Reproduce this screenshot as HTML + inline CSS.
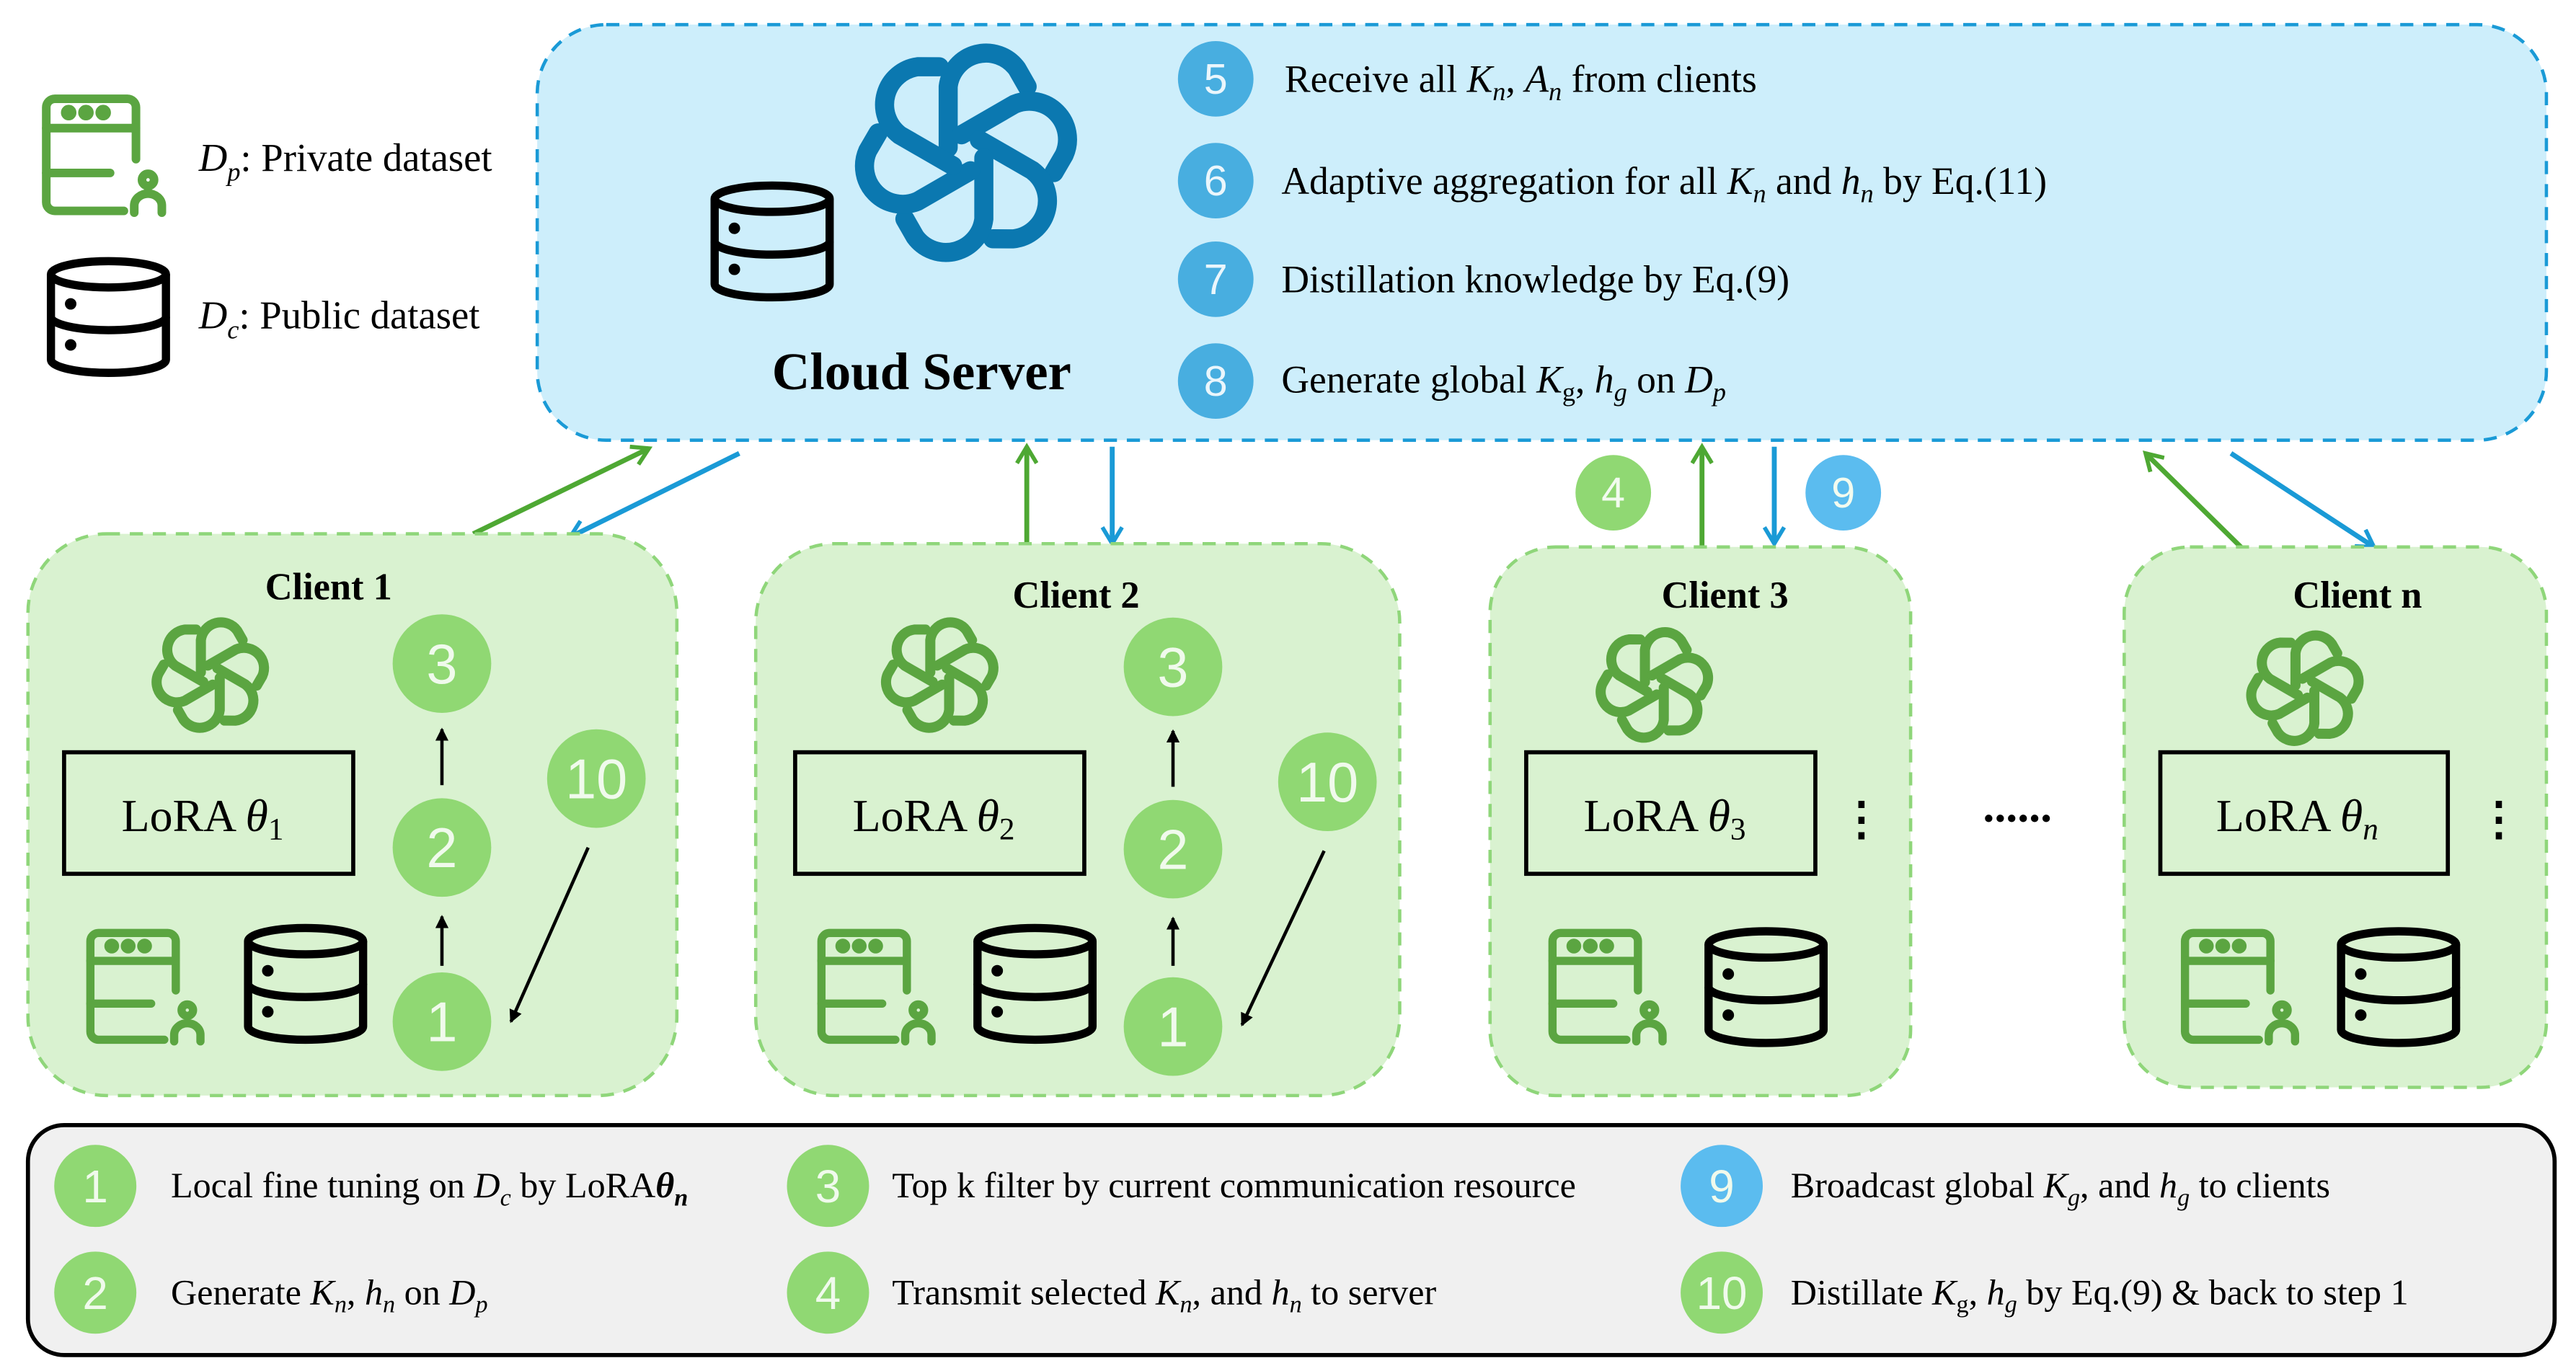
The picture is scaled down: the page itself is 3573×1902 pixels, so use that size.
<!DOCTYPE html>
<html><head><meta charset="utf-8"><style>html,body{margin:0;padding:0;background:#fff}svg{display:block}</style></head>
<body>
<svg width="3573" height="1902" viewBox="0 0 1568 834.7" xmlns="http://www.w3.org/2000/svg" font-family="'Liberation Serif', serif">
<defs>
<g id="logo" fill="none" stroke-linejoin="round" stroke-linecap="round">
  <g id="petal"><path d="M-7,-2 L-7,-26 A15,15 0 0 1 20,-33 L24,-26" stroke-width="7.5"/></g>
  <use href="#petal" transform="rotate(60)"/>
  <use href="#petal" transform="rotate(120)"/>
  <use href="#petal" transform="rotate(180)"/>
  <use href="#petal" transform="rotate(240)"/>
  <use href="#petal" transform="rotate(300)"/>
</g>
<g id="db" fill="none" stroke="#000" stroke-width="5">
  <ellipse cx="38" cy="10" rx="35" ry="8"/>
  <path d="M3,10 V62 A35,8 0 0 0 73,62 V10"/>
  <path d="M3,36 A35,8 0 0 0 73,36"/>
  <circle cx="15" cy="28" r="3.5" fill="#000" stroke="none"/>
  <circle cx="15" cy="53" r="3.5" fill="#000" stroke="none"/>
</g>
<g id="srv" fill="none" stroke="#5ba541" stroke-width="5" stroke-linecap="round">
  <path d="M48,68 H8 A5,5 0 0 1 3,63 V8 A5,5 0 0 1 8,3 H50 A5,5 0 0 1 55,8 V38"/>
  <path d="M3,20 H55 M3,46 H40"/>
  <circle cx="16" cy="11" r="2" fill="#5ba541"/><circle cx="26" cy="11" r="2" fill="#5ba541"/><circle cx="36" cy="11" r="2" fill="#5ba541"/>
  <circle cx="62" cy="50" r="3.5"/>
  <path d="M54,69 V65 A8,7 0 0 1 70,65 V69"/>
</g>
<marker id="ak" markerWidth="8" markerHeight="8" refX="7" refY="4" orient="auto" markerUnits="userSpaceOnUse"><path d="M0,0 L8,4 L0,8 z" fill="#000"/></marker>
<marker id="ag" markerWidth="14" markerHeight="14" refX="11" refY="7" orient="auto" markerUnits="userSpaceOnUse"><path d="M1,1 L11,7 L1,13" fill="none" stroke="#4ea833" stroke-width="2.5"/></marker>
<marker id="ab" markerWidth="14" markerHeight="14" refX="11" refY="7" orient="auto" markerUnits="userSpaceOnUse"><path d="M1,1 L11,7 L1,13" fill="none" stroke="#1a9ad6" stroke-width="2.5"/></marker>
</defs>

<!-- legend top-left -->
<use href="#srv" transform="translate(25,57) scale(1.05)"/>
<text x="121" y="104" font-size="24"><tspan font-style="italic">D</tspan><tspan font-style="italic" font-size="16" dy="6">p</tspan><tspan dy="-6">: Private dataset</tspan></text>
<use href="#db" transform="translate(28,157)"/>
<text x="121" y="200" font-size="24"><tspan font-style="italic">D</tspan><tspan font-style="italic" font-size="16" dy="6">c</tspan><tspan dy="-6">: Public  dataset</tspan></text>

<!-- cloud server -->
<rect x="327" y="15" width="1223" height="253" rx="42" fill="#cdeefb" stroke="#1a9ad6" stroke-width="2" stroke-dasharray="8,6"/>
<g fill="#cdeefb"><use href="#db" transform="translate(432,111)"/></g>
<g stroke="#0b78b0"><use href="#logo" transform="translate(588,93) scale(1.55)"/></g>
<text x="561" y="237" font-size="32" font-weight="bold" text-anchor="middle">Cloud Server</text>
<g font-family="'Liberation Sans', sans-serif" font-size="26" fill="#eaf6fc" text-anchor="middle">
<circle cx="740" cy="48" r="23" fill="#48aee0"/><text x="740" y="57">5</text>
<circle cx="740" cy="110" r="23" fill="#48aee0"/><text x="740" y="119">6</text>
<circle cx="740" cy="170" r="23" fill="#48aee0"/><text x="740" y="179">7</text>
<circle cx="740" cy="232" r="23" fill="#48aee0"/><text x="740" y="241">8</text>
</g>
<g font-size="23.5">
<text x="782" y="56">Receive all <tspan font-style="italic">K</tspan><tspan font-style="italic" font-size="16" dy="5">n</tspan><tspan dy="-5">, </tspan><tspan font-style="italic">A</tspan><tspan font-style="italic" font-size="16" dy="5">n</tspan><tspan dy="-5">  from clients</tspan></text>
<text x="780" y="118">Adaptive aggregation for all <tspan font-style="italic">K</tspan><tspan font-style="italic" font-size="16" dy="5">n</tspan><tspan dy="-5"> and </tspan><tspan font-style="italic">h</tspan><tspan font-style="italic" font-size="16" dy="5">n</tspan><tspan dy="-5">   by Eq.(11)</tspan></text>
<text x="780" y="178">Distillation knowledge by Eq.(9)</text>
<text x="780" y="239">Generate global <tspan font-style="italic">K</tspan><tspan font-size="16" dy="5">g</tspan><tspan dy="-5">, </tspan><tspan font-style="italic">h</tspan><tspan font-style="italic" font-size="16" dy="5">g</tspan><tspan dy="-5"> on </tspan><tspan font-style="italic">D</tspan><tspan font-style="italic" font-size="16" dy="5">p</tspan></text>
</g>

<!-- connectors -->
<g stroke-width="3" fill="none">
<line x1="288" y1="325" x2="395" y2="273" stroke="#4ea833" marker-end="url(#ag)"/>
<line x1="450" y1="276" x2="347" y2="327" stroke="#1a9ad6" marker-end="url(#ab)"/>
<line x1="625" y1="331" x2="625" y2="272" stroke="#4ea833" marker-end="url(#ag)"/>
<line x1="677" y1="272" x2="677" y2="331" stroke="#1a9ad6" marker-end="url(#ab)"/>
<line x1="1036" y1="334" x2="1036" y2="272" stroke="#4ea833" marker-end="url(#ag)"/>
<line x1="1080" y1="272" x2="1080" y2="331" stroke="#1a9ad6" marker-end="url(#ab)"/>
<line x1="1365" y1="334" x2="1306" y2="276" stroke="#4ea833" marker-end="url(#ag)"/>
<line x1="1358" y1="276" x2="1445" y2="333" stroke="#1a9ad6" marker-end="url(#ab)"/>
</g>
<g font-family="'Liberation Sans', sans-serif" font-size="26" fill="#f2fbef" text-anchor="middle">
<circle cx="982" cy="300" r="23" fill="#90d873"/><text x="982" y="309">4</text>
<circle cx="1122" cy="300" r="23" fill="#5bbcef"/><text x="1122" y="309">9</text>
</g>

<!-- clients -->
<g fill="#d9f2d0" stroke="#8fd67a" stroke-width="2" stroke-dasharray="8,6">
<rect x="17" y="325" width="395" height="342" rx="48"/>
<rect x="460" y="331" width="392" height="336" rx="48"/>
<rect x="907" y="333" width="256" height="334" rx="40"/>
<rect x="1293" y="333" width="257" height="329" rx="40"/>
</g>
<g font-size="23" font-weight="bold" text-anchor="middle">
<text x="200" y="365">Client 1</text>
<text x="655" y="370">Client 2</text>
<text x="1050" y="370">Client 3</text>
<text x="1435" y="370">Client n</text>
</g>
<g stroke="#5ba541">
<use href="#logo" transform="translate(128,411) scale(0.82)"/>
<use href="#logo" transform="translate(572,411) scale(0.82)"/>
<use href="#logo" transform="translate(1007,417) scale(0.82)"/>
<use href="#logo" transform="translate(1403,419) scale(0.82)"/>
</g>
<g fill="none" stroke="#000" stroke-width="2.5">
<rect x="39" y="458" width="176" height="74"/>
<rect x="484" y="458" width="176" height="74"/>
<rect x="929" y="458" width="176" height="74"/>
<rect x="1315" y="458" width="175" height="74"/>
</g>
<g font-size="28">
<text x="74" y="506">LoRA <tspan font-style="italic">θ</tspan><tspan font-size="19" dy="5">1</tspan></text>
<text x="519" y="506">LoRA <tspan font-style="italic">θ</tspan><tspan font-size="19" dy="5">2</tspan></text>
<text x="964" y="506">LoRA <tspan font-style="italic">θ</tspan><tspan font-size="19" dy="5">3</tspan></text>
<text x="1349" y="506">LoRA <tspan font-style="italic">θ</tspan><tspan font-style="italic" font-size="19" dy="5">n</tspan></text>
</g>
<g font-size="28" font-weight="bold" text-anchor="middle">
<text x="1133" y="508">⋮</text><text x="1521" y="508">⋮</text>
<text x="1228" y="500">......</text>
</g>
<use href="#srv" transform="translate(52,565)"/><use href="#db" transform="translate(148,563)"/>
<use href="#srv" transform="translate(497,565)"/><use href="#db" transform="translate(592,563)"/>
<use href="#srv" transform="translate(942,565)"/><use href="#db" transform="translate(1037,565)"/>
<use href="#srv" transform="translate(1327,565)"/><use href="#db" transform="translate(1422,565)"/>

<g stroke="#000" stroke-width="2" marker-end="url(#ak)">
<line x1="269" y1="588" x2="269" y2="558"/><line x1="269" y1="478" x2="269" y2="444"/>
<line x1="358" y1="516" x2="311" y2="622"/>
<line x1="714" y1="588" x2="714" y2="559"/><line x1="714" y1="479" x2="714" y2="445"/>
<line x1="806" y1="518" x2="756" y2="624"/>
</g>
<g font-family="'Liberation Sans', sans-serif" font-size="34" fill="#f0faec" text-anchor="middle">
<circle cx="269" cy="404" r="30" fill="#90d873"/><text x="269" y="416">3</text>
<circle cx="269" cy="516" r="30" fill="#90d873"/><text x="269" y="528">2</text>
<circle cx="269" cy="622" r="30" fill="#90d873"/><text x="269" y="634">1</text>
<circle cx="363" cy="474" r="30" fill="#90d873"/><text x="363" y="486">10</text>
<circle cx="714" cy="406" r="30" fill="#90d873"/><text x="714" y="418">3</text>
<circle cx="714" cy="517" r="30" fill="#90d873"/><text x="714" y="529">2</text>
<circle cx="714" cy="625" r="30" fill="#90d873"/><text x="714" y="637">1</text>
<circle cx="808" cy="476" r="30" fill="#90d873"/><text x="808" y="488">10</text>
</g>

<!-- bottom legend -->
<rect x="17" y="685" width="1538" height="140" rx="22" fill="#f0f0f0" stroke="#000" stroke-width="2.5"/>
<g font-family="'Liberation Sans', sans-serif" font-size="28" fill="#f0faec" text-anchor="middle">
<circle cx="58" cy="722" r="25" fill="#90d873"/><text x="58" y="732">1</text>
<circle cx="58" cy="787" r="25" fill="#90d873"/><text x="58" y="797">2</text>
<circle cx="504" cy="722" r="25" fill="#90d873"/><text x="504" y="732">3</text>
<circle cx="504" cy="787" r="25" fill="#90d873"/><text x="504" y="797">4</text>
<circle cx="1048" cy="722" r="25" fill="#5bbcef"/><text x="1048" y="732">9</text>
<circle cx="1048" cy="787" r="25" fill="#90d873"/><text x="1048" y="797">10</text>
</g>
<g font-size="22">
<text x="104" y="729">Local fine tuning on  <tspan font-style="italic">D</tspan><tspan font-style="italic" font-size="15" dy="5">c</tspan><tspan dy="-5"> by LoRA</tspan><tspan font-style="italic" font-weight="bold">θ</tspan><tspan font-style="italic" font-weight="bold" font-size="15" dy="5">n</tspan></text>
<text x="104" y="794">Generate  <tspan font-style="italic">K</tspan><tspan font-style="italic" font-size="15" dy="5">n</tspan><tspan dy="-5">, </tspan><tspan font-style="italic">h</tspan><tspan font-style="italic" font-size="15" dy="5">n</tspan><tspan dy="-5"> on </tspan><tspan font-style="italic">D</tspan><tspan font-style="italic" font-size="15" dy="5">p</tspan></text>
<text x="543" y="729">Top k filter by current communication resource</text>
<text x="543" y="794">Transmit selected <tspan font-style="italic">K</tspan><tspan font-style="italic" font-size="15" dy="5">n</tspan><tspan dy="-5">,  and </tspan><tspan font-style="italic">h</tspan><tspan font-style="italic" font-size="15" dy="5">n</tspan><tspan dy="-5"> to server</tspan></text>
<text x="1090" y="729">Broadcast global  <tspan font-style="italic">K</tspan><tspan font-style="italic" font-size="15" dy="5">g</tspan><tspan dy="-5">,  and </tspan><tspan font-style="italic">h</tspan><tspan font-style="italic" font-size="15" dy="5">g</tspan><tspan dy="-5"> to clients</tspan></text>
<text x="1090" y="794">Distillate <tspan font-style="italic">K</tspan><tspan font-size="15" dy="5">g</tspan><tspan dy="-5">, </tspan><tspan font-style="italic">h</tspan><tspan font-style="italic" font-size="15" dy="5">g</tspan><tspan dy="-5"> by Eq.(9) &amp; back to step 1</tspan></text>
</g>
</svg>
</body></html>
